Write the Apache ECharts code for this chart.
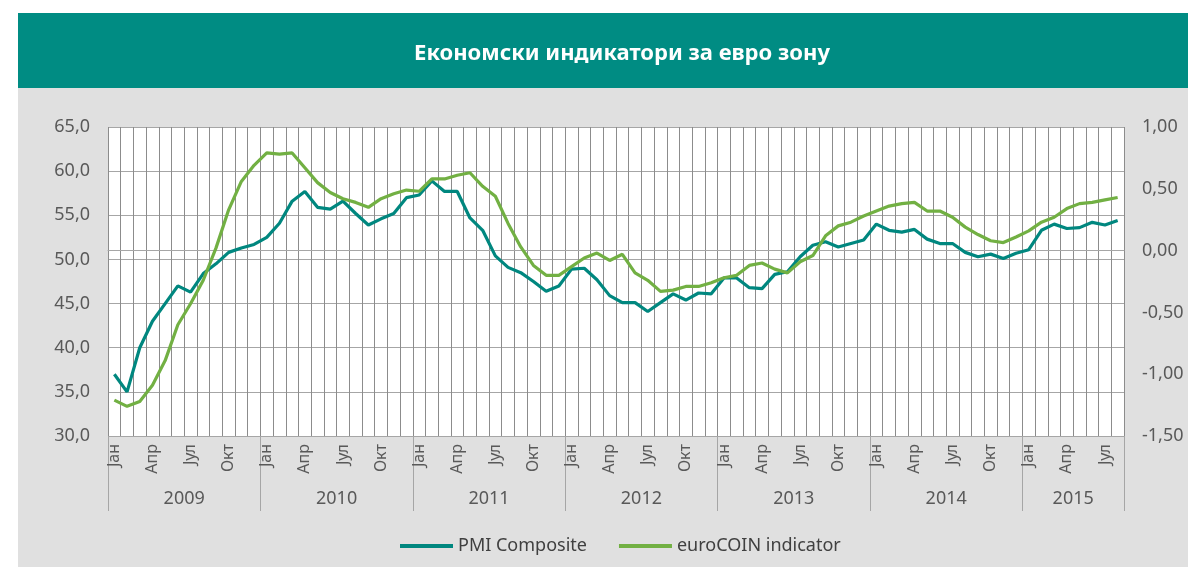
<!DOCTYPE html>
<html>
<head>
<meta charset="utf-8">
<script src="https://cdn.jsdelivr.net/npm/echarts@6/dist/echarts.min.js"></script>
<style>
  html, body { margin: 0; padding: 0; background: #fff; }
  #chart { width: 1188px; height: 567px; }
</style>
</head>
<body>
<div id="chart"></div>
<script>
// месеци и години на оската
const MONTH_NAMES = ["Јан", "Феб", "Мар", "Апр", "Мај", "Јун", "Јул", "Авг", "Сеп", "Окт", "Нов", "Дец"];
const YEARS = ["2009", "2010", "2011", "2012", "2013", "2014", "2015"];
const MONTHS_IN_YEAR = [12, 12, 12, 12, 12, 12, 8];

// PMI Composite (лева оска)
const pmiComposite = [
  37.0, 35.0, 40.0, 43.0, 45.0, 47.0, 46.3, 48.4, 49.5, 50.8, 51.3, 51.7,
  52.5, 54.1, 56.6, 57.7, 55.9, 55.7, 56.6, 55.2, 53.9, 54.6, 55.2, 57.0,
  57.3, 58.9, 57.7, 57.7, 54.7, 53.3, 50.4, 49.1, 48.5, 47.5, 46.4, 47.0,
  48.9, 49.0, 47.7, 45.9, 45.1, 45.1, 44.1, 45.1, 46.1, 45.4, 46.2, 46.1,
  47.9, 47.9, 46.8, 46.7, 48.3, 48.6, 50.3, 51.6, 52.0, 51.4, 51.8, 52.2,
  54.0, 53.3, 53.1, 53.4, 52.3, 51.8, 51.8, 50.8, 50.3, 50.6, 50.1, 50.7,
  51.1, 53.3, 54.0, 53.5, 53.6, 54.2, 53.9, 54.4
];

// euroCOIN indicator (десна оска)
const euroCoin = [
  -1.21, -1.26, -1.22, -1.09, -0.89, -0.60, -0.43, -0.24, 0.02, 0.33, 0.56, 0.69,
  0.79, 0.78, 0.79, 0.67, 0.55, 0.47, 0.42, 0.39, 0.35, 0.42, 0.46, 0.49,
  0.48, 0.58, 0.58, 0.61, 0.63, 0.52, 0.44, 0.22, 0.03, -0.12, -0.20, -0.20,
  -0.13, -0.06, -0.02, -0.08, -0.03, -0.18, -0.24, -0.33, -0.32, -0.29, -0.29, -0.26,
  -0.22, -0.20, -0.12, -0.10, -0.15, -0.18, -0.09, -0.04, 0.12, 0.20, 0.23, 0.28,
  0.32, 0.36, 0.38, 0.39, 0.32, 0.32, 0.27, 0.19, 0.13, 0.08, 0.065, 0.11,
  0.16, 0.23, 0.27, 0.34, 0.38, 0.39, 0.41, 0.43
];

const months = [];
YEARS.forEach((y, i) => {
  for (let m = 0; m < MONTHS_IN_YEAR[i]; m++) months.push(MONTH_NAMES[m]);
});

// граници и средини на годините
const yearBounds = [0];
const yearMiddles = [];
MONTHS_IN_YEAR.forEach((n) => {
  const start = yearBounds[yearBounds.length - 1];
  yearMiddles.push(start + n / 2);
  yearBounds.push(start + n);
});

const FONT = "'Noto Sans', sans-serif";
const TEXT = "#595959";

const chart = echarts.init(document.getElementById("chart"));
chart.setOption({
  backgroundColor: "#ffffff",
  animation: false,
  graphic: [
    { type: "rect", z: -10, shape: { x: 18, y: 13, width: 1170, height: 75 }, style: { fill: "#008C83" } },
    { type: "rect", z: -10, shape: { x: 18, y: 88, width: 1170, height: 479 }, style: { fill: "#E0E0E0" } },
  ],
  title: {
    text: "Економски индикатори за евро зону",
    left: 617,
    top: 38,
    textAlign: "center",
    textStyle: { color: "#ffffff", fontFamily: FONT, fontWeight: "bold", fontSize: 22 },
  },
  legend: {
    bottom: 7,
    left: 395,
    itemWidth: 53,
    itemHeight: 4,
    itemGap: 32,
    icon: "rect",
    textStyle: { color: "#404040", fontFamily: FONT, fontSize: 18 },
    data: ["PMI Composite", "euroCOIN indicator"],
  },
  grid: {
    left: 108,
    right: 64,
    top: 127,
    bottom: 131,
    show: true,
    backgroundColor: "#ffffff",
    borderWidth: 0,
  },
  xAxis: [
    {
      type: "category",
      data: months,
      boundaryGap: true,
      axisLine: { show: true, lineStyle: { color: "#A6A6A6", width: 1 } },
      axisTick: { show: false },
      splitLine: { show: true, interval: 0, lineStyle: { color: "#8C8C8C", width: 1 } },
      axisLabel: {
        interval: (idx) => idx % 3 === 0,
        rotate: 90,
        margin: 8,
        color: TEXT,
        fontFamily: FONT,
        fontSize: 16,
      },
    },
    {
      type: "value",
      min: 0,
      max: yearBounds[yearBounds.length - 1],
      position: "bottom",
      axisLine: { show: false },
      splitLine: { show: false },
      axisTick: {
        show: true,
        customValues: yearBounds,
        length: 75,
        lineStyle: { color: "#A6A6A6", width: 1 },
      },
      axisLabel: {
        customValues: yearMiddles,
        formatter: (v) => YEARS[yearMiddles.indexOf(v)] || "",
        margin: 54,
        color: TEXT,
        fontFamily: FONT,
        fontSize: 18,
      },
    },
  ],
  yAxis: [
    {
      type: "value",
      min: 30,
      max: 65,
      interval: 5,
      axisLine: { show: false },
      axisTick: { show: false },
      splitLine: { show: true, lineStyle: { color: "#A6A6A6", width: 1 } },
      axisLabel: {
        margin: 18,
        color: TEXT,
        fontFamily: FONT,
        fontSize: 18,
        formatter: (v) => v.toFixed(1).replace(".", ","),
      },
    },
    {
      type: "value",
      min: -1.5,
      max: 1.0,
      interval: 0.5,
      position: "right",
      axisLine: { show: false },
      axisTick: { show: false },
      splitLine: { show: false },
      axisLabel: {
        margin: 18,
        color: TEXT,
        fontFamily: FONT,
        fontSize: 18,
        formatter: (v) => v.toFixed(2).replace(".", ","),
      },
    },
  ],
  series: [
    {
      name: "PMI Composite",
      type: "line",
      data: pmiComposite,
      xAxisIndex: 0,
      yAxisIndex: 0,
      symbol: "none",
      lineStyle: { color: "#00877F", width: 3.2 },
      itemStyle: { color: "#00877F" },
    },
    {
      name: "euroCOIN indicator",
      type: "line",
      data: euroCoin,
      xAxisIndex: 0,
      yAxisIndex: 1,
      symbol: "none",
      lineStyle: { color: "#72B043", width: 3.2 },
      itemStyle: { color: "#72B043" },
    },
  ],
});
</script>
</body>
</html>
